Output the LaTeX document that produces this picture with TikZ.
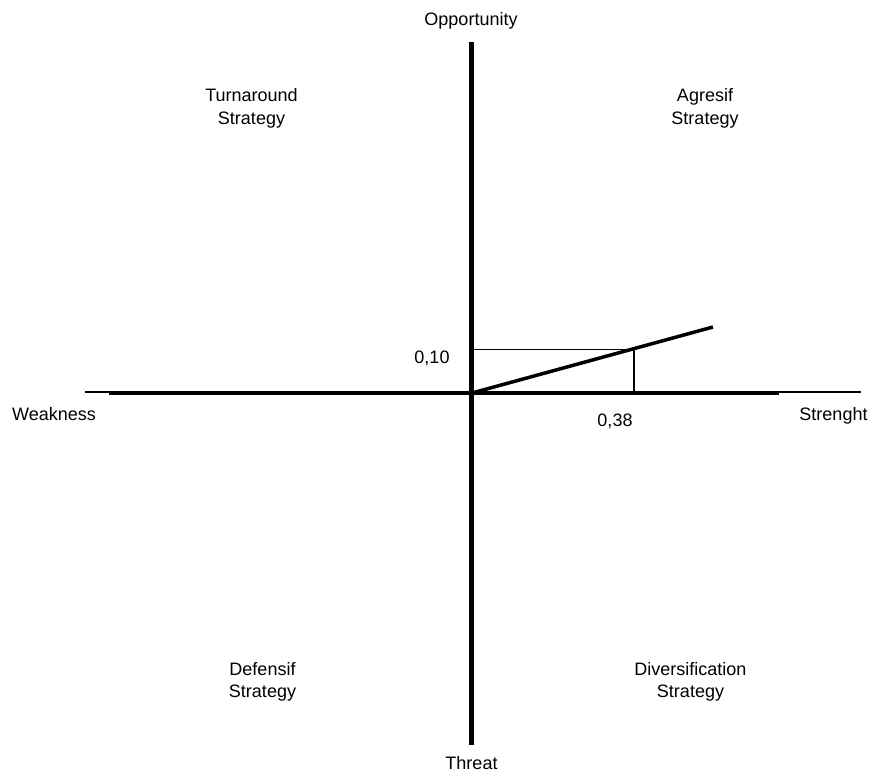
\documentclass[tikz,border=0pt]{standalone}
\usepackage{fontspec}
\setmainfont{Liberation Sans}
\begin{document}
\begin{tikzpicture}[x=1pt,y=-1pt,
  lbl/.style={font=\fontsize{18}{22.5}\selectfont, inner sep=0pt, anchor=base, align=center},
  axisthin/.style={line width=1.3pt},
  axisthick/.style={line width=3.5pt},
  vaxis/.style={line width=4.5pt},
  vecline/.style={line width=3.5pt},
  guide/.style={line width=1pt},
  drop/.style={line width=2.5pt}]
\useasboundingbox (0,0) rectangle (871,773);
% coordinates
\coordinate (O) at (472,393);
\coordinate (hthinL) at (85,392);
\coordinate (hthinR) at (861,392);
\coordinate (hthickL) at (109,393.3);
\coordinate (hthickR) at (779,393.3);
\coordinate (vtop) at (471.7,42);
\coordinate (vbot) at (471.7,745);
\coordinate (vecEnd) at (713,327);
\coordinate (P) at (634,349.5);
\coordinate (Py) at (472,349.5);
\coordinate (Px) at (634,393);
% axes
\draw[axisthin] (hthinL) -- (hthinR);
\draw[axisthick] (hthickL) -- (hthickR);
\draw[vaxis] (vtop) -- (vbot);
% vector and guides
\draw[guide] (Py) -- (P);
\draw[drop] (P) -- (Px);
\draw[vecline] (O) -- (vecEnd);
% labels
\node[lbl] (opp) at (471,26) {Opportunity};
\node[lbl] (thr) at (471.5,769) {Threat};
\node[lbl] (weak) at (54,420.7) {Weakness};
\node[lbl] (str) at (833.5,420.7) {Strenght};
\node[lbl] (v10) at (432,363.3) {0,10};
\node[lbl] (v38) at (615,426) {0,38};
\node[lbl] (turn) at (251.5,124.5) {Turnaround\\Strategy};
\node[lbl] (agr) at (705,124.5) {Agresif\\Strategy};
\node[lbl] (def) at (262.5,697.5) {Defensif\\Strategy};
\node[lbl] (div) at (690.5,697.5) {Diversification\\Strategy};
\end{tikzpicture}
\end{document}
